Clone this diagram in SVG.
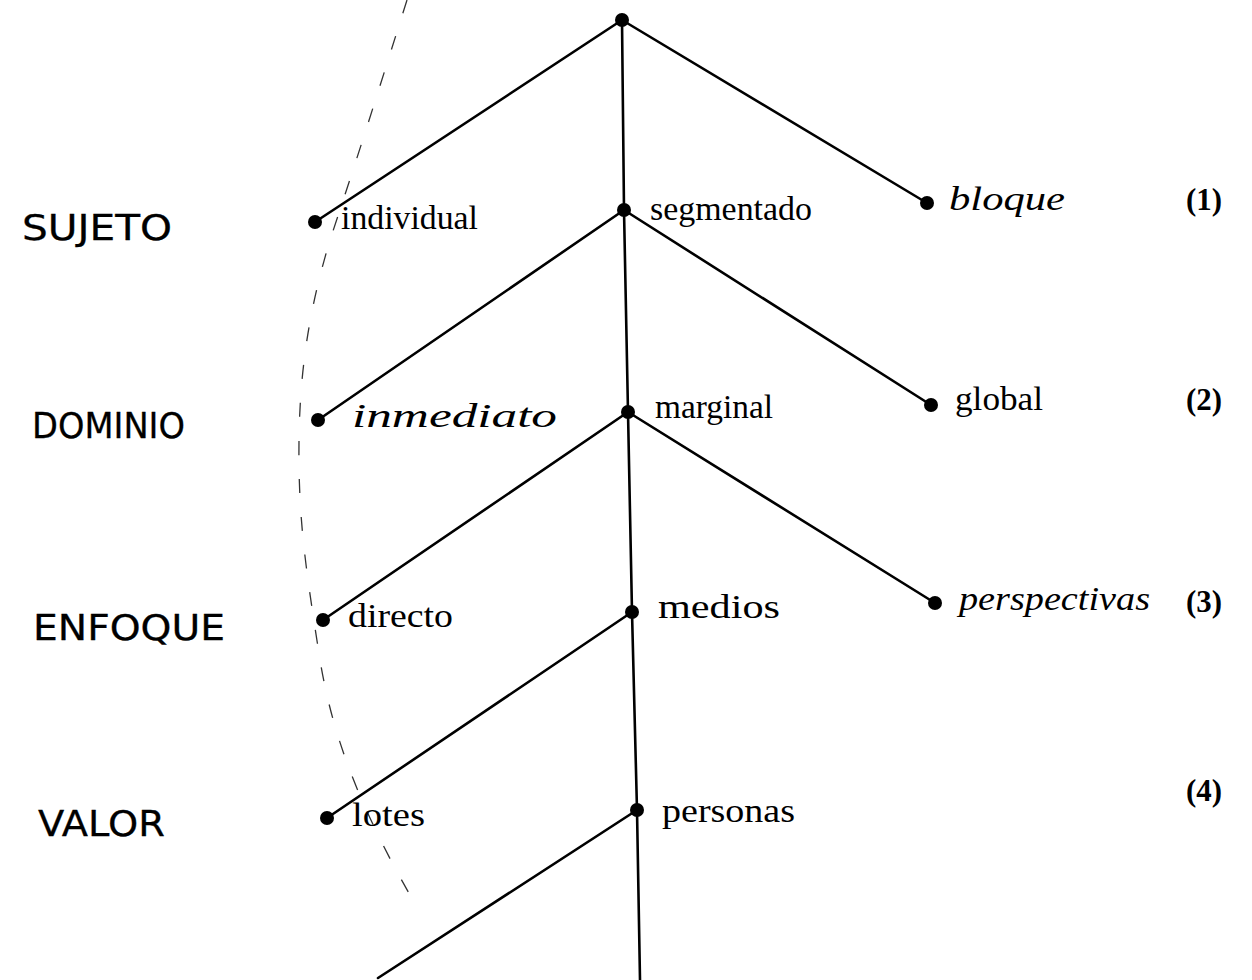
<svg xmlns="http://www.w3.org/2000/svg" width="1252" height="980" viewBox="0 0 1252 980">
<style>
.bg{fill:#fff}
.edge{stroke:#000;stroke-width:2.6;fill:none;stroke-linecap:round}
.dot{fill:#000}
.pr{font-family:"Liberation Serif","Times New Roman",serif;font-size:33px;fill:#000}
.hw{font-family:"Liberation Serif","Times New Roman",serif;font-style:italic;font-size:34px;fill:#000}
.cap{font-family:"DejaVu Sans","Liberation Sans",sans-serif;font-size:35px;fill:#000;stroke:#000;stroke-width:0.3}
.num{font-family:"Liberation Serif","Times New Roman",serif;font-size:31px;font-weight:bold;fill:#000}
.arc{stroke:#333;stroke-width:1.3;fill:none;stroke-dasharray:14 24}
</style>
<rect class="bg" x="0" y="0" width="1252" height="980"/>
<path class="arc" d="M407 0 C385 70 360 150 330 240 C312 300 300 360 299 440 C298 520 306 570 320 660 C330 720 350 790 410 895"/>
<g id="connectors">
<path class="edge" d="M622 20 L624 210 L628 412 L632 612 L637 810 L640 980"/>
<line class="edge" x1="622" y1="20" x2="315" y2="222"/>
<line class="edge" x1="622" y1="20" x2="927" y2="203"/>
<line class="edge" x1="624" y1="210" x2="318" y2="420"/>
<line class="edge" x1="624" y1="210" x2="931" y2="405"/>
<line class="edge" x1="628" y1="412" x2="323" y2="620"/>
<line class="edge" x1="628" y1="412" x2="935" y2="603"/>
<line class="edge" x1="632" y1="612" x2="327" y2="818"/>
<line class="edge" x1="637" y1="810" x2="378" y2="978"/>
</g>
<g id="root"><circle class="dot" cx="622" cy="20" r="7"/></g>
<g id="individual"><circle class="dot" cx="315" cy="222" r="7"/><text class="pr" x="341" y="229" textLength="137" lengthAdjust="spacingAndGlyphs">individual</text></g>
<g id="segmentado"><circle class="dot" cx="624" cy="210" r="7"/><text class="pr" x="650" y="220" textLength="162" lengthAdjust="spacingAndGlyphs">segmentado</text></g>
<g id="bloque"><circle class="dot" cx="927" cy="203" r="7"/><text class="hw" x="949" y="210" textLength="116" lengthAdjust="spacingAndGlyphs">bloque</text></g>
<g id="inmediato"><circle class="dot" cx="318" cy="420" r="7"/><text class="hw" x="352" y="427" textLength="205" lengthAdjust="spacingAndGlyphs">inmediato</text></g>
<g id="marginal"><circle class="dot" cx="628" cy="412" r="7"/><text class="pr" x="655" y="418" textLength="118" lengthAdjust="spacingAndGlyphs">marginal</text></g>
<g id="global"><circle class="dot" cx="931" cy="405" r="7"/><text class="pr" x="955" y="410" textLength="88" lengthAdjust="spacingAndGlyphs">global</text></g>
<g id="directo"><circle class="dot" cx="323" cy="620" r="7"/><text class="pr" x="348" y="627" textLength="105" lengthAdjust="spacingAndGlyphs">directo</text></g>
<g id="medios"><circle class="dot" cx="632" cy="612" r="7"/><text class="pr" x="658" y="618" textLength="122" lengthAdjust="spacingAndGlyphs">medios</text></g>
<g id="perspectivas"><circle class="dot" cx="935" cy="603" r="7"/><text class="hw" x="959" y="610" textLength="191" lengthAdjust="spacingAndGlyphs">perspectivas</text></g>
<g id="lotes"><circle class="dot" cx="327" cy="818" r="7"/><text class="pr" x="352" y="826" textLength="73" lengthAdjust="spacingAndGlyphs">lotes</text></g>
<g id="personas"><circle class="dot" cx="637" cy="810" r="7"/><text class="pr" x="662" y="822" textLength="133" lengthAdjust="spacingAndGlyphs">personas</text></g>
<g id="levels">
<text class="cap" x="22" y="240" textLength="150" lengthAdjust="spacingAndGlyphs">SUJETO</text>
<text class="cap" x="32" y="438" textLength="153" lengthAdjust="spacingAndGlyphs">DOMINIO</text>
<text class="cap" x="33" y="640" textLength="192" lengthAdjust="spacingAndGlyphs">ENFOQUE</text>
<text class="cap" x="38" y="836" textLength="127" lengthAdjust="spacingAndGlyphs">VALOR</text>
</g>
<g id="numbers">
<text class="num" x="1186" y="210" textLength="36" lengthAdjust="spacingAndGlyphs">(1)</text>
<text class="num" x="1186" y="410" textLength="36" lengthAdjust="spacingAndGlyphs">(2)</text>
<text class="num" x="1186" y="612" textLength="36" lengthAdjust="spacingAndGlyphs">(3)</text>
<text class="num" x="1186" y="801" textLength="36" lengthAdjust="spacingAndGlyphs">(4)</text>
</g>
</svg>
